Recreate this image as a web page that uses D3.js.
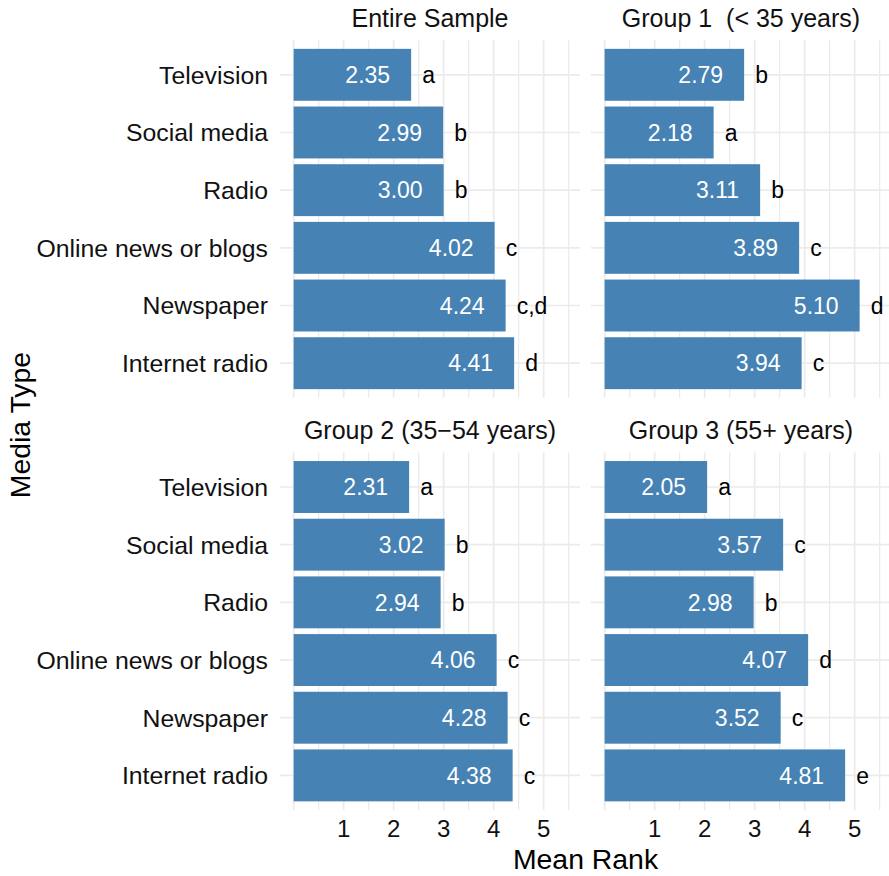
<!DOCTYPE html>
<html>
<head>
<meta charset="utf-8">
<script src="https://cdn.jsdelivr.net/npm/d3@7"></script>
<style>
  html, body { margin: 0; padding: 0; background: #fff; }
  svg text { font-family: "Liberation Sans", Arial, Helvetica, sans-serif; white-space: pre; }
</style>
</head>
<body>
<svg id="chart" width="889" height="876"></svg>
<script>
// ---- data ----
const categories = ["Television", "Social media", "Radio", "Online news or blogs", "Newspaper", "Internet radio"];
const panelTitles = ["Entire Sample", "Group 1  (< 35 years)", "Group 2 (35\u221254 years)", "Group 3 (55+ years)"];
const entireValues = [2.35, 2.99, 3.00, 4.02, 4.24, 4.41];
const entireLetters = ["a", "b", "b", "c", "c,d", "d"];
const group1Values = [2.79, 2.18, 3.11, 3.89, 5.10, 3.94];
const group1Letters = ["b", "a", "b", "c", "d", "c"];
const group2Values = [2.31, 3.02, 2.94, 4.06, 4.28, 4.38];
const group2Letters = ["a", "b", "b", "c", "c", "c"];
const group3Values = [2.05, 3.57, 2.98, 4.07, 3.52, 4.81];
const group3Letters = ["a", "c", "b", "d", "c", "e"];
const xTicks = [1, 2, 3, 4, 5];
const xGrid = [0, 0.5, 1, 1.5, 2, 2.5, 3, 3.5, 4, 4.5, 5, 5.5];
const xTitle = "Mean Rank";
const yTitle = "Media Type";

const panels = [
  { title: panelTitles[0], values: entireValues, letters: entireLetters },
  { title: panelTitles[1], values: group1Values, letters: group1Letters },
  { title: panelTitles[2], values: group2Values, letters: group2Letters },
  { title: panelTitles[3], values: group3Values, letters: group3Letters }
];

// ---- layout ----
const svg = d3.select("#chart");
const panelW = 300, panelH = 357.6;
const colX = [280, 591];
const rowY = [40.2, 452.4];
const barColor = "#4682B4";
const gridColor = "#EBEBEB";

const x = d3.scaleLinear().domain([-0.2727, 5.7273]).range([0, panelW]);
const y = d3.scaleBand().domain(categories).range([0, panelH]).paddingInner(0.1).paddingOuter(0.15);

panels.forEach((p, i) => {
  const col = i % 2, row = Math.floor(i / 2);
  const g = svg.append("g").attr("transform", `translate(${colX[col]},${rowY[row]})`);

  // gridlines
  g.selectAll("line.vg").data(xGrid).enter().append("line")
    .attr("x1", d => x(d)).attr("x2", d => x(d))
    .attr("y1", 0).attr("y2", panelH)
    .attr("stroke", gridColor)
    .attr("stroke-width", d => Number.isInteger(d) ? 1.7 : 1.3);
  g.selectAll("line.hg").data(categories).enter().append("line")
    .attr("x1", 0).attr("x2", panelW)
    .attr("y1", d => y(d) + y.bandwidth() / 2).attr("y2", d => y(d) + y.bandwidth() / 2)
    .attr("stroke", gridColor).attr("stroke-width", 1.7);

  const rows = categories.map((c, k) => ({ cat: c, v: p.values[k], letter: p.letters[k] }));

  // bars
  g.selectAll("rect").data(rows).enter().append("rect")
    .attr("x", x(0)).attr("y", d => y(d.cat))
    .attr("width", d => x(d.v) - x(0)).attr("height", y.bandwidth())
    .attr("fill", barColor);

  // values
  g.selectAll("text.val").data(rows).enter().append("text")
    .attr("x", d => x(d.v) - 21)
    .attr("y", d => y(d.cat) + y.bandwidth() / 2)
    .attr("dy", "0.36em")
    .attr("text-anchor", "end")
    .attr("fill", "#fff")
    .attr("font-size", 23)
    .text(d => d.v.toFixed(2));

  // letters
  g.selectAll("text.let").data(rows).enter().append("text")
    .attr("x", d => x(d.v) + 11)
    .attr("y", d => y(d.cat) + y.bandwidth() / 2)
    .attr("dy", "0.36em")
    .attr("text-anchor", "start")
    .attr("fill", "#000")
    .attr("font-size", 23)
    .text(d => d.letter);

  // strip title
  g.append("text")
    .attr("x", panelW / 2).attr("y", -13)
    .attr("text-anchor", "middle")
    .attr("font-size", 25)
    .attr("fill", "#111")
    .text(p.title);

  // y axis labels (left column)
  if (col === 0) {
    g.selectAll("text.ylab").data(categories).enter().append("text")
      .attr("x", -12)
      .attr("y", d => y(d) + y.bandwidth() / 2)
      .attr("dy", "0.36em")
      .attr("text-anchor", "end")
      .attr("font-size", 24.8)
      .attr("fill", "#111")
      .text(d => d);
  }

  // x axis labels (bottom row)
  if (row === 1) {
    g.selectAll("text.xlab").data(xTicks).enter().append("text")
      .attr("x", d => x(d))
      .attr("y", panelH + 27)
      .attr("text-anchor", "middle")
      .attr("font-size", 24)
      .attr("fill", "#111")
      .text(d => d);
  }
});

// axis titles
svg.append("text")
  .attr("x", (colX[0] + colX[1] + panelW) / 2)
  .attr("y", 869)
  .attr("text-anchor", "middle")
  .attr("font-size", 28.4)
  .attr("fill", "#000")
  .text(xTitle);

svg.append("text")
  .attr("transform", `translate(30,${(rowY[0] + rowY[1] + panelH) / 2}) rotate(-90)`)
  .attr("text-anchor", "middle")
  .attr("font-size", 28.4)
  .attr("fill", "#000")
  .text(yTitle);
</script>
</body>
</html>
